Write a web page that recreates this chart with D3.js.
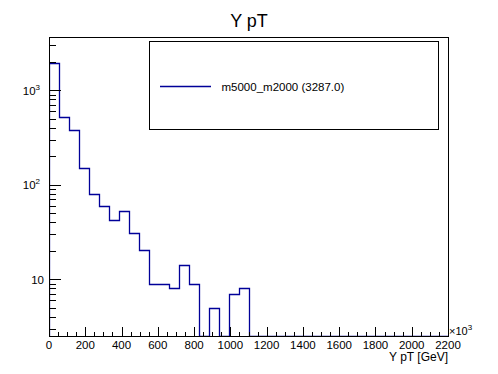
<!DOCTYPE html>
<html>
<head>
<meta charset="utf-8">
<script src="https://cdn.jsdelivr.net/npm/d3@7"></script>
<style>
  body { margin: 0; background: #fff; }
  svg { display: block; font-family: "Liberation Sans", Arial, Helvetica, sans-serif; }
</style>
</head>
<body>
<div id="chart"></div>
<script>
// histogram: Y pT, 40 bins of 55 GeV from 0 to 2200
var binEdges = [0, 55, 110, 165, 220, 275, 330, 385, 440, 495, 550, 605, 660, 715, 770, 825, 880, 935, 990, 1045,
  1100, 1155, 1210, 1265, 1320, 1375, 1430, 1485, 1540, 1595, 1650, 1705, 1760, 1815, 1870, 1925, 1980, 2035, 2090, 2145, 2200];
var counts = [1930, 518, 380, 151, 80, 60, 42, 53, 31, 20.5, 9, 9, 8, 14, 9, 0, 5, 0, 7, 8,
  0, 0, 0, 0, 0, 0, 0, 0, 0, 0, 0, 0, 0, 0, 0, 0, 0, 0, 0, 0];
var xTicks = [0, 200, 400, 600, 800, 1000, 1200, 1400, 1600, 1800, 2000, 2200];
var yMajor = [10, 100, 1000];
var yMajorExp = ['', '2', '3'];
var yMinor = [3, 4, 5, 6, 7, 8, 9, 20, 30, 40, 50, 60, 70, 80, 90, 200, 300, 400, 500, 600, 700, 800, 900, 2000, 3000];
var legendLabel = 'm5000_m2000 (3287.0)';

var W = 498, H = 374;
var fl = 49, fr = 448, ft = 37, fb = 336;
var histColor = '#000099';

var svg = d3.select('#chart').append('svg')
  .attr('width', W)
  .attr('height', H);

var x = d3.scaleLinear().domain([0, 2200]).range([fl, fr]);
var y = d3.scaleLog().domain([2.51, 3664]).range([fb, ft]);

svg.append('defs').append('clipPath').attr('id', 'frameClip')
  .append('rect').attr('x', fl).attr('y', ft).attr('width', fr - fl).attr('height', fb - ft);

// step outline like ROOT: empty bins drop to the bottom of the frame
var pts = [[x(binEdges[0]), fb]];
for (var i = 0; i < counts.length; i++) {
  var yy = counts[i] > 0 ? y(counts[i]) : fb;
  pts.push([x(binEdges[i]), yy]);
  pts.push([x(binEdges[i + 1]), yy]);
}
pts.push([x(binEdges[binEdges.length - 1]), fb]);

svg.append('path')
  .attr('clip-path', 'url(#frameClip)')
  .attr('d', d3.line()(pts.map(function(p) { return [Math.round(p[0]) + 0.5, Math.round(p[1]) + 0.5]; })))
  .attr('fill', 'none')
  .attr('stroke', histColor)
  .attr('stroke-width', 1.3);

// frame
svg.append('rect')
  .attr('x', fl + 0.5).attr('y', ft + 0.5)
  .attr('width', fr - fl).attr('height', fb - ft)
  .attr('fill', 'none').attr('stroke', '#000').attr('stroke-width', 1);

var ticks = svg.append('g').attr('stroke', '#000').attr('stroke-width', 1).attr('shape-rendering', 'crispEdges');

// x ticks, major every 200, minor every 50
xTicks.forEach(function(t) {
  ticks.append('line').attr('x1', Math.round(x(t)) + 0.5).attr('x2', Math.round(x(t)) + 0.5)
    .attr('y1', fb).attr('y2', fb - 9);
});
for (var k = 0; k < xTicks.length - 1; k++) {
  [50, 100, 150].forEach(function(d) {
    var v = xTicks[k] + d;
    ticks.append('line').attr('x1', Math.round(x(v)) + 0.5).attr('x2', Math.round(x(v)) + 0.5)
      .attr('y1', fb).attr('y2', fb - 4.5);
  });
}

// y ticks
yMajor.forEach(function(t) {
  ticks.append('line').attr('x1', fl).attr('x2', fl + 12)
    .attr('y1', Math.round(y(t)) + 0.5).attr('y2', Math.round(y(t)) + 0.5);
});
yMinor.forEach(function(t) {
  ticks.append('line').attr('x1', fl).attr('x2', fl + 7)
    .attr('y1', Math.round(y(t)) + 0.5).attr('y2', Math.round(y(t)) + 0.5);
});

// x tick labels
svg.append('g').selectAll('text').data(xTicks).enter().append('text')
  .attr('x', function(d) { return x(d); })
  .attr('y', 348.5)
  .attr('text-anchor', 'middle')
  .attr('font-size', 11.5)
  .attr('fill', '#000')
  .text(function(d) { return d; });

// y tick labels, 10^n style
yMajor.forEach(function(t, i) {
  var lab = svg.append('text')
    .attr('x', yMajorExp[i] ? 40 : 44)
    .attr('y', y(t) + 4.3)
    .attr('text-anchor', 'end')
    .attr('font-size', 11.5)
    .attr('fill', '#000');
  lab.append('tspan').text('10');
  if (yMajorExp[i]) {
    lab.append('tspan').attr('font-size', 8).attr('dy', -5).text(yMajorExp[i]);
  }
});

// x10^3 multiplier
var mult = svg.append('text')
  .attr('x', 449).attr('y', 335)
  .attr('font-size', 11)
  .attr('fill', '#000');
mult.append('tspan').text('\u00d710');
mult.append('tspan').attr('font-size', 8).attr('dy', -5).text('3');

// axis title
svg.append('text')
  .attr('x', fr).attr('y', 361)
  .attr('text-anchor', 'end')
  .attr('font-size', 12)
  .attr('fill', '#000')
  .text('Y pT [GeV]');

// title
svg.append('text')
  .attr('x', 249).attr('y', 27)
  .attr('text-anchor', 'middle')
  .attr('font-size', 18)
  .attr('fill', '#000')
  .text('Y pT');

// legend
var leg = svg.append('g');
leg.append('rect')
  .attr('x', 149.5).attr('y', 41.5)
  .attr('width', 289).attr('height', 88)
  .attr('fill', '#fff').attr('stroke', '#000').attr('stroke-width', 1);
leg.append('line')
  .attr('x1', 160).attr('x2', 211)
  .attr('y1', 86.5).attr('y2', 86.5)
  .attr('stroke', histColor).attr('stroke-width', 1.3);
leg.append('text')
  .attr('x', 221.5).attr('y', 91)
  .attr('font-size', 11.5)
  .attr('fill', '#000')
  .text(legendLabel);
</script>
</body>
</html>
